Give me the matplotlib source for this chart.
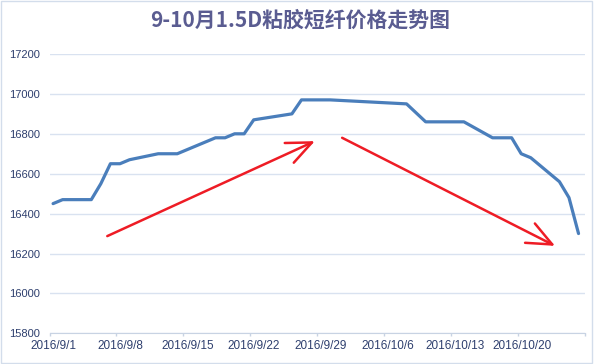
import matplotlib
matplotlib.use("Agg")
import matplotlib.pyplot as plt
import matplotlib.transforms as mtransforms
from matplotlib.patches import Rectangle
import pandas as pd

# daily price points (only the turning points of the line)
dates = ['2016-09-01', '2016-09-02', '2016-09-05', '2016-09-06', '2016-09-07',
         '2016-09-08', '2016-09-09', '2016-09-12', '2016-09-14', '2016-09-18',
         '2016-09-19', '2016-09-20', '2016-09-21', '2016-09-22', '2016-09-26',
         '2016-09-27', '2016-09-30', '2016-10-08', '2016-10-10', '2016-10-14',
         '2016-10-17', '2016-10-19', '2016-10-20', '2016-10-21', '2016-10-24',
         '2016-10-25', '2016-10-26']
prices = [16450, 16470, 16470, 16550, 16650,
          16650, 16670, 16700, 16700, 16780,
          16780, 16800, 16800, 16870, 16900,
          16970, 16970, 16950, 16860, 16860,
          16780, 16780, 16700, 16680, 16560,
          16480, 16300]

tick_dates = ['2016-09-01', '2016-09-08', '2016-09-15', '2016-09-22',
              '2016-09-29', '2016-10-06', '2016-10-13', '2016-10-20']
tick_labels = ['2016/9/1', '2016/9/8', '2016/9/15', '2016/9/22',
               '2016/9/29', '2016/10/6', '2016/10/13', '2016/10/20']
y_ticks = [15800, 16000, 16200, 16400, 16600, 16800, 17000, 17200]
title = '9-10月1.5D粘胶短纤价格走势图'

# hand-drawn red arrows (axes fraction: start, tip)
arrow_up = ((0.108, 0.348), (0.496, 0.688))
arrow_down = ((0.547, 0.700), (0.945, 0.313))

W, H = 600, 364
fig = plt.figure(figsize=(W / 100, H / 100), dpi=100)
fig.patch.set_facecolor('white')

# outer chart border
fig.patches.append(Rectangle((1 / W, 1 - 362.5 / H), 591 / W, 361.5 / H,
                             transform=fig.transFigure, fill=False,
                             edgecolor='#D3DDEB', lw=1))

ax = fig.add_axes([49.5 / W, 1 - 333.3 / H, 535 / W, 279.3 / H])

# excel puts each day's point a bit inside its day slot
x = pd.to_datetime(dates) + pd.Timedelta(hours=9)
ax.plot(x, prices, color='#4A7EBB', lw=2.3, solid_joinstyle='round',
        solid_capstyle='round', zorder=3)

ax.set_xlim(pd.Timestamp('2016-09-01'), pd.Timestamp('2016-10-27'))
ax.set_ylim(15800, 17200)
ax.set_yticks(y_ticks)
ax.set_yticklabels([str(v) for v in y_ticks])
ax.set_xticks(pd.to_datetime(tick_dates + ['2016-10-27']))
ax.set_xticklabels(tick_labels + [''])

ax.grid(axis='y', color='#D9E2F0', lw=1)
ax.set_axisbelow(True)
for s in ['top', 'right', 'left']:
    ax.spines[s].set_visible(False)
ax.spines['bottom'].set_color('#C8D3E3')
ax.spines['bottom'].set_zorder(1)

ax.tick_params(axis='y', length=0, pad=7, labelsize=8, labelcolor='#2E3F6E')
ax.tick_params(axis='x', length=2, width=1, color='#C8D3E3', pad=3,
               labelsize=8.5, labelcolor='#2E3F6E')
for lab in ax.get_xticklabels() + ax.get_yticklabels():
    lab.set_family('Liberation Sans')
shift = mtransforms.ScaledTranslation(0.04, 0, fig.dpi_scale_trans)
for lab in ax.get_xticklabels():
    lab.set_transform(lab.get_transform() + shift)

for start, tip in (arrow_up, arrow_down):
    ax.annotate('', xy=tip, xytext=start, xycoords='axes fraction',
                textcoords='axes fraction',
                arrowprops=dict(arrowstyle='->,head_length=1.5,head_width=0.65',
                                color='#EE1C25', lw=1.8, mutation_scale=12,
                                shrinkA=0, shrinkB=0))

fig.text(0.5, 1 - 20 / H, title, ha='center', va='center', fontsize=15,
         fontweight='bold', color='#5A5C91',
         family=['Noto Sans CJK SC', 'DejaVu Sans'])

fig.savefig('out.png', dpi=100)
